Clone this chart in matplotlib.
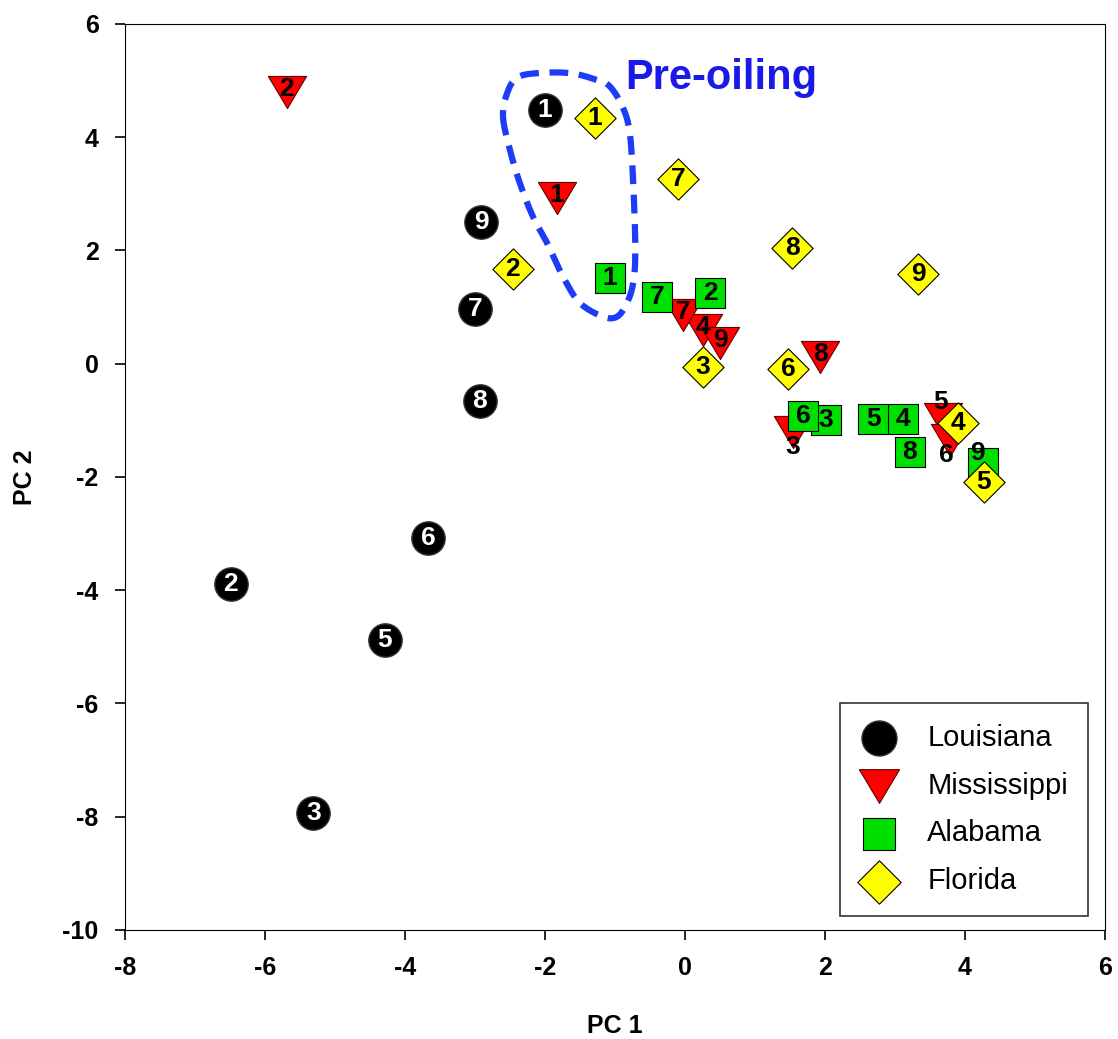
import numpy as np
import matplotlib
matplotlib.use("Agg")
import matplotlib.pyplot as plt

plt.rcParams["font.family"] = ["Liberation Sans", "DejaVu Sans"]
plt.rcParams["axes.unicode_minus"] = False

# --- data ---
la_id = ["1", "2", "3", "5", "6", "7", "8", "9"]
la_x = [-2.0, -6.49, -5.31, -4.29, -3.67, -3.0, -2.93, -2.91]
la_y = [4.48, -3.89, -7.93, -4.88, -3.08, 0.97, -0.66, 2.50]

ms_id = ["1", "2", "3", "4", "5", "6", "7", "8", "9"]
ms_x = [-1.83, -5.69, 1.54, 0.26, 3.69, 3.79, -0.03, 1.93, 0.50]
ms_y = [2.93, 4.80, -1.21, 0.60, -0.98, -1.35, 0.86, 0.12, 0.37]

al_id = ["1", "2", "3", "4", "5", "6", "7", "8", "9"]
al_x = [-1.07, 0.36, 2.01, 3.11, 2.69, 1.69, -0.40, 3.21, 4.26]
al_y = [1.51, 1.25, -0.99, -0.98, -0.98, -0.92, 1.18, -1.56, -1.75]

fl_id = ["1", "2", "3", "4", "5", "6", "7", "8", "9"]
fl_x = [-1.29, -2.46, 0.26, 3.90, 4.27, 1.47, -0.10, 1.53, 3.33]
fl_y = [4.34, 1.67, -0.06, -1.05, -2.09, -0.09, 3.26, 2.04, 1.59]

# outline of the "Pre-oiling" group
loop_x = [-2.60, -2.50, -2.36, -2.17, -1.97, -1.74, -1.50, -1.17, -0.97,
          -0.83, -0.74, -0.71, -0.74, -0.79, -0.89, -1.07, -1.26, -1.64,
          -2.11, -2.40, -2.54]
loop_y = [4.36, 3.77, 3.19, 2.59, 2.13, 1.53, 1.07, 0.83, 0.83,
          1.07, 1.43, 2.01, 3.19, 4.08, 4.53, 4.89, 5.01, 5.13,
          5.13, 5.05, 4.78]

# label offsets (points) for crowded labels
ms_off = {"3": (0, -11), "5": (-2, 12), "6": (-3, -11)}
al_off = {"9": (-4, 7)}

# wide, flat down-pointing triangle like the original symbol
tri = [(-1, 0.84), (1, 0.84), (0, -0.84), (-1, 0.84)]


def smooth_closed(xs, ys, n=12):
    # catmull-rom through the outline points
    p = np.column_stack([xs, ys])
    m = len(p)
    out = []
    for i in range(m):
        p0, p1, p2, p3 = p[i - 1], p[i], p[(i + 1) % m], p[(i + 2) % m]
        for t in np.linspace(0, 1, n, endpoint=False):
            t2, t3 = t * t, t * t * t
            out.append(0.5 * ((2 * p1) + (-p0 + p2) * t
                              + (2 * p0 - 5 * p1 + 4 * p2 - p3) * t2
                              + (-p0 + 3 * p1 - 3 * p2 + p3) * t3))
    out.append(out[0])
    return np.array(out)


fig = plt.figure(figsize=(11.18, 10.39), dpi=100)
ax = fig.add_axes([0.1118, 0.105, 0.8766, 0.872])

curve = smooth_closed(loop_x, loop_y)
ax.plot(curve[:, 0], curve[:, 1], color="#1c3cf5", lw=4.5,
        linestyle="--", dashes=(3.0, 1.7), dash_capstyle="butt", zorder=1)
ax.text(-0.86, 5.05, "Pre-oiling", color="#1a1ae8", fontsize=30,
        fontweight="bold", va="center", ha="left")

num_font = dict(fontsize=19, fontweight="bold", ha="center", va="center")

ax.scatter(la_x, la_y, s=24 ** 2, marker="o", c="black", edgecolors="#333333",
           linewidths=1, zorder=2, label="Louisiana")
for i, x, y in zip(la_id, la_x, la_y):
    ax.text(x, y, i, color="white", zorder=2.1, **num_font)

ax.scatter(ms_x, ms_y, s=27.5 ** 2, marker=tri, c="red", edgecolors="#600000",
           linewidths=0.8, zorder=3, label="Mississippi")
for i, x, y in zip(ms_id, ms_x, ms_y):
    dx, dy = ms_off.get(i, (0, 2))
    ax.annotate(i, (x, y), xytext=(dx, dy), textcoords="offset points",
                color="black", zorder=3.1, **num_font)

ax.scatter(al_x, al_y, s=22 ** 2, marker="s", c="#00e000", edgecolors="black",
           linewidths=0.8, zorder=4, label="Alabama")
for i, x, y in zip(al_id, al_x, al_y):
    dx, dy = al_off.get(i, (0, 0))
    ax.annotate(i, (x, y), xytext=(dx, dy), textcoords="offset points",
                color="black", zorder=4.1, **num_font)

ax.scatter(fl_x, fl_y, s=21 ** 2, marker="D", c="#ffff00", edgecolors="black",
           linewidths=0.8, zorder=5, label="Florida")
for i, x, y in zip(fl_id, fl_x, fl_y):
    ax.text(x, y, i, color="black", zorder=5.1, **num_font)

ax.set_xlim(-8, 6)
ax.set_ylim(-10, 6)
ax.set_xticks(range(-8, 7, 2))
ax.set_yticks(range(-10, 7, 2))
ax.tick_params(direction="out", length=7, width=1.2, labelsize=18, pad=12)
for lab in ax.get_xticklabels() + ax.get_yticklabels():
    lab.set_fontweight("bold")
ax.set_xlabel("PC 1", fontsize=18, fontweight="bold", labelpad=24)
ax.set_ylabel("PC 2", fontsize=18, fontweight="bold", labelpad=18)

leg = ax.legend(loc="lower right", bbox_to_anchor=(0.992, 0.006),
                fontsize=21, frameon=True, fancybox=False, edgecolor="black",
                borderpad=0.7, labelspacing=0.68, handletextpad=1.0,
                handlelength=1.3, markerscale=1.05, scatterpoints=1,
                borderaxespad=0.3)
leg.get_frame().set_linewidth(1.2)

fig.savefig("out.png", dpi=100)
